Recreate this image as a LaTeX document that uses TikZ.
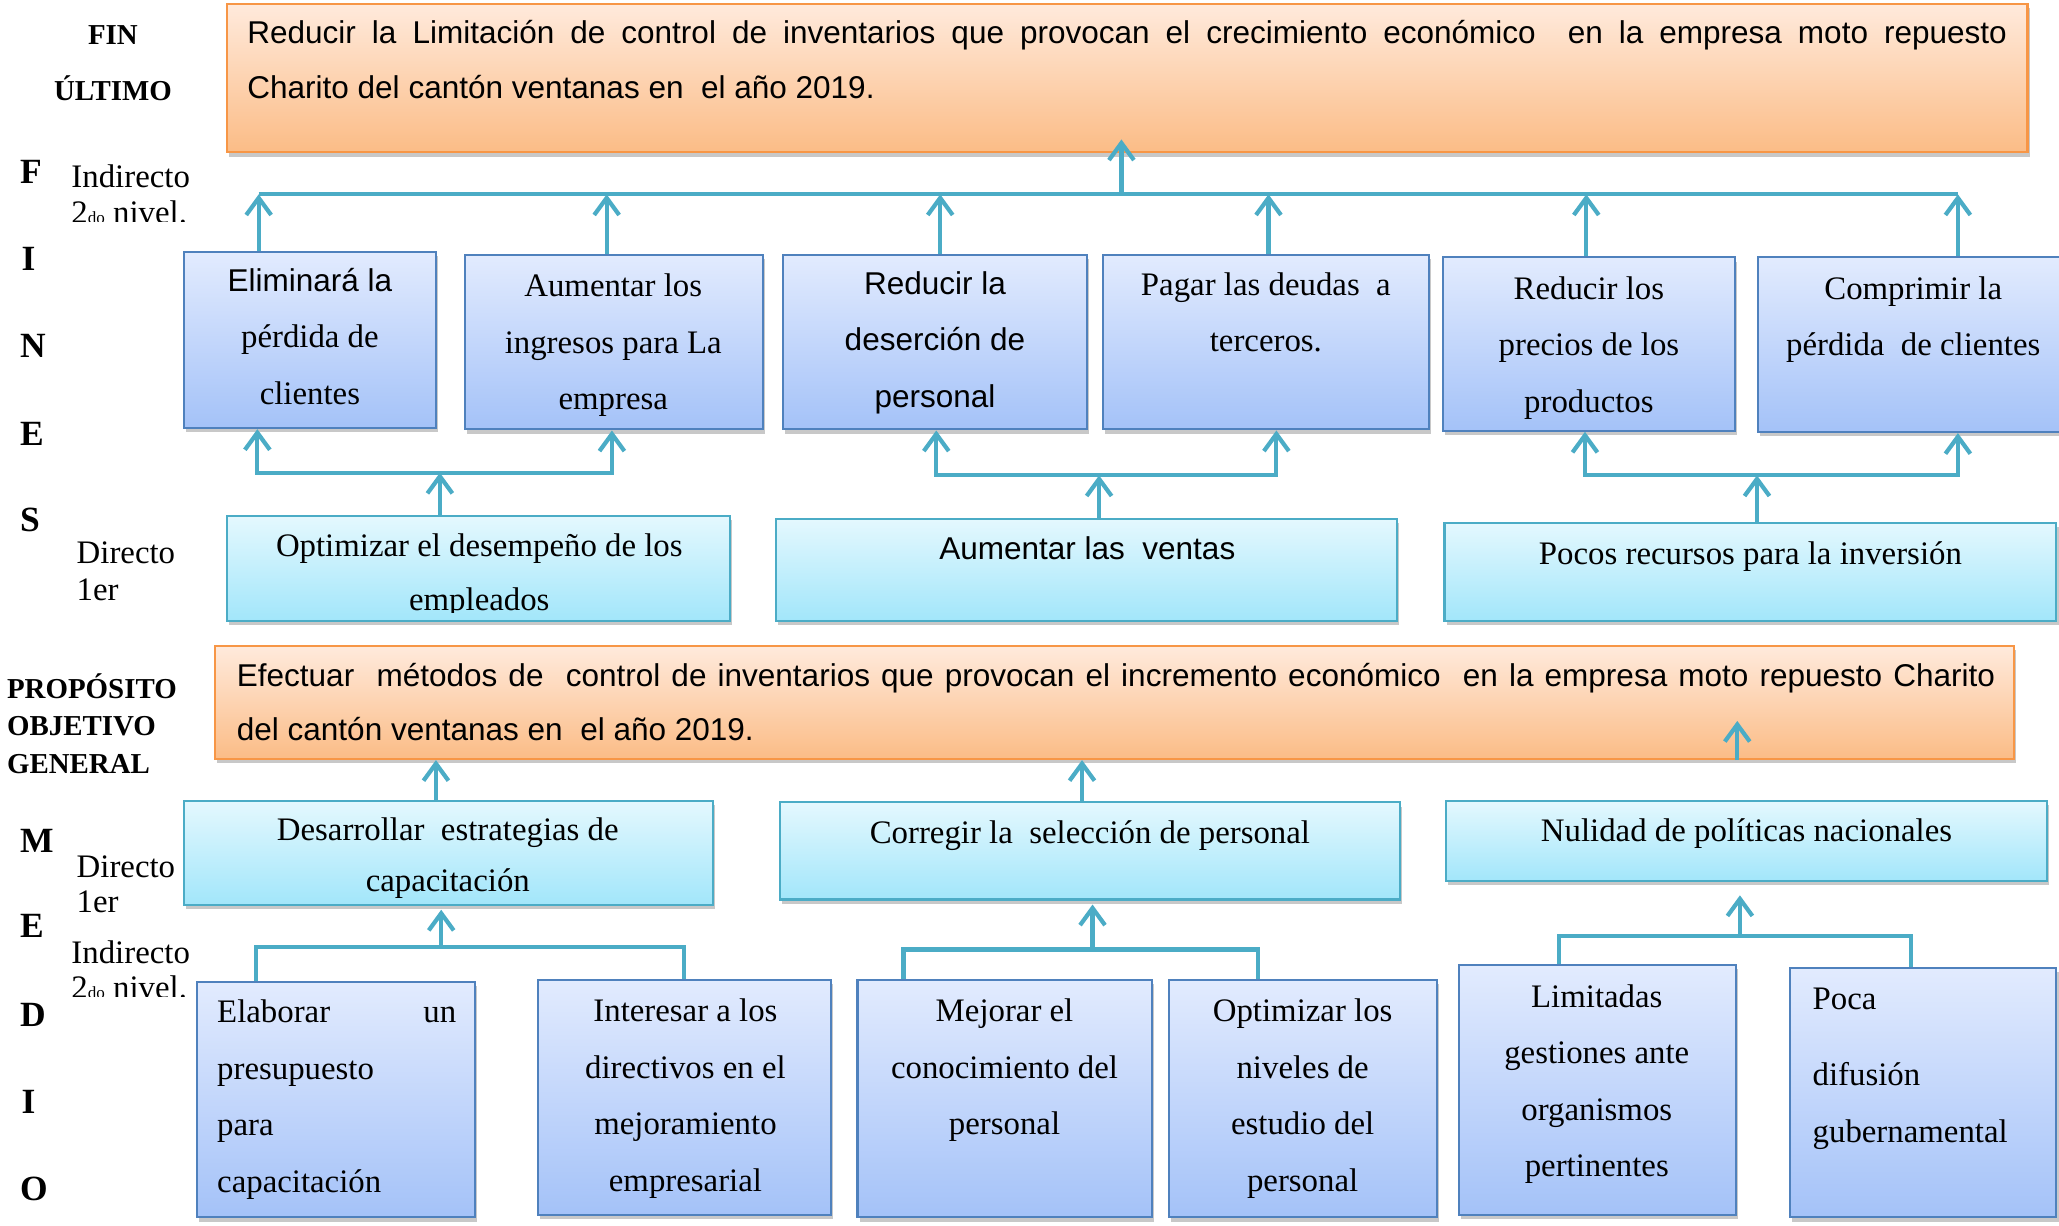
\documentclass[tikz,border=0pt]{standalone}
\usepackage{fontspec}
\setmainfont{Liberation Serif}
\newfontfamily\arialf{Liberation Sans}
\usetikzlibrary{fit,shadows,arrows.meta}
\definecolor{orTop}{HTML}{FFEADC}
\definecolor{orBot}{HTML}{FBBC86}
\definecolor{orLine}{HTML}{F79646}
\definecolor{blTop}{HTML}{E2EBFE}
\definecolor{blBot}{HTML}{A4C2F8}
\definecolor{blLine}{HTML}{4F81BD}
\definecolor{cyTop}{HTML}{E4F8FE}
\definecolor{cyBot}{HTML}{A2E6FA}
\definecolor{cyLine}{HTML}{4BACC6}
\definecolor{connC}{HTML}{4BACC6}
\newcommand{\ariaTxt}{\arialf\fontsize{12}{21.5}\selectfont}
\begin{document}
\begin{tikzpicture}[x=0.5pt,y=0.5pt,
  boxbase/.style={rectangle, inner sep=0pt, line width=0.8pt,
    drop shadow={shadow xshift=0.8pt,shadow yshift=-1.6pt,opacity=0.3,fill=black!70}},
  orbox/.style={boxbase, draw=orLine, top color=orTop, bottom color=orBot},
  blbox/.style={boxbase, draw=blLine, top color=blTop, bottom color=blBot},
  cybox/.style={boxbase, draw=cyLine, top color=cyTop, bottom color=cyBot},
  conn/.style={draw=connC, line width=1.6pt},
  arr/.style={conn, -{Straight Barb[length=6.5pt,width=9.5pt]}},
  darr/.style={conn, {Straight Barb[length=6.5pt,width=9.5pt]}-{Straight Barb[length=6.5pt,width=9.5pt]}},
  stxt/.style={inner sep=0pt, font=\fontsize{12.5}{21.5}\selectfont, align=flush center},
  atxt/.style={inner sep=0pt, font=\ariaTxt, align=flush center},
  lab/.style={inner sep=0pt, font=\bfseries\fontsize{11}{13}\selectfont},
  letr/.style={inner sep=0pt, font=\bfseries\fontsize{13.5}{15}\selectfont, anchor=base west},
  lvl/.style={inner sep=0pt, font=\fontsize{12.5}{14}\selectfont, anchor=base west},
]
\useasboundingbox (0,0) rectangle (1568,-933);
\fill[white] (0,0) rectangle (1568,-933);
\clip (0,0) rectangle (1568,-933);

% ---------- boxes ----------
\node[orbox, fit={(173,-3) (1544,-116)}] (fin) {};
\node[blbox, fit={(140,-192) (332,-326)}] (b1) {};
\node[blbox, fit={(354,-194) (581,-327)}] (b2) {};
\node[blbox, fit={(596,-194) (828,-327)}] (b3) {};
\node[blbox, fit={(840,-194) (1088,-327)}] (b4) {};
\node[blbox, fit={(1099,-196) (1321,-328)}] (b5) {};
\node[blbox, fit={(1339,-196) (1580,-329)}] (b6) {};
\node[cybox, fit={(173,-393) (556,-473)}] (c1) {};
\node[cybox, fit={(591,-395) (1064,-473)}] (c2) {};
\node[cybox, fit={(1100,-398) (1566,-473)}] (c3) {};
\node[orbox, fit={(164,-492) (1534,-578)}] (og) {};
\node[cybox, fit={(140,-610) (543,-689)}] (m1) {};
\node[cybox, fit={(594,-611) (1066,-685)}] (m2) {};
\node[cybox, fit={(1101,-610) (1559,-671)}] (m3) {};
\node[blbox, fit={(150,-748) (362,-927)}] (e1) {};
\node[blbox, fit={(410,-746) (633,-925)}] (e2) {};
\node[blbox, fit={(653,-746) (877,-927)}] (e3) {};
\node[blbox, fit={(890,-746) (1094,-927)}] (e4) {};
\node[blbox, fit={(1111,-735) (1322,-925)}] (e5) {};
\node[blbox, fit={(1363,-737) (1566,-927)}] (e6) {};

% ---------- connectors ----------
\coordinate (tbL) at (197,-148);
\coordinate (tbR) at (1491,-148);
\coordinate (tbM) at (854,-148);
\coordinate (ta2) at (462,-148);
\coordinate (ta3) at (716,-148);
\coordinate (ta4) at (966,-148);
\coordinate (ta5) at (1208,-148);
\draw[conn] (tbL) -- (tbR);
\draw[arr, shorten >=-5.3pt] (tbM) -- (tbM |- fin.south);
\draw[arr] (b1.north -| tbL) -- (tbL);
\draw[arr] (b2.north -| ta2) -- (ta2);
\draw[arr] (b3.north -| ta3) -- (ta3);
\draw[arr] (b4.north -| ta4) -- (ta4);
\draw[arr] (b5.north -| ta5) -- (ta5);
\draw[arr] (b6.north -| tbR) -- (tbR);

\coordinate (g1L) at (196,-360);
\coordinate (g1R) at (466,-360);
\coordinate (g1M) at (335,-360);
\draw[darr] (b1.south -| g1L) -- (g1L) -- (g1R) -- (b2.south -| g1R);
\draw[arr] (c1.north -| g1M) -- (g1M);

\coordinate (g2L) at (713,-362);
\coordinate (g2R) at (972,-362);
\coordinate (g2M) at (837,-362);
\draw[darr] (b3.south -| g2L) -- (g2L) -- (g2R) -- (b4.south -| g2R);
\draw[arr] (c2.north -| g2M) -- (g2M);

\coordinate (g3L) at (1207,-362);
\coordinate (g3R) at (1491,-362);
\coordinate (g3M) at (1338,-362);
\draw[darr] (b5.south -| g3L) -- (g3L) -- (g3R) -- (b6.south -| g3R);
\draw[arr] (c3.north -| g3M) -- (g3M);

\coordinate (p1) at (332,-578);
\coordinate (p2) at (824,-578);
\coordinate (p3) at (1323,-578);
\coordinate (p3t) at (1323,-549);
\draw[arr] (m1.north -| p1) -- (p1 |- og.south);
\draw[arr] (m2.north -| p2) -- (p2 |- og.south);
\draw[arr] (p3 |- og.south) -- (p3t);

\coordinate (k1L) at (195,-721);
\coordinate (k1R) at (521,-721);
\coordinate (k1M) at (336,-721);
\draw[conn] (e1.north -| k1L) -- (k1L) -- (k1R) -- (e2.north -| k1R);
\draw[arr, shorten >=1.5pt] (k1M) -- (k1M |- m1.south);

\coordinate (k2L) at (688,-723);
\coordinate (k2R) at (958,-723);
\coordinate (k2M) at (832,-723);
\draw[conn] (e3.north -| k2L) -- (k2L) -- (k2R) -- (e4.north -| k2R);
\draw[arr, shorten >=1.5pt] (k2M) -- (k2M |- m2.south);

\coordinate (k3L) at (1187,-713);
\coordinate (k3R) at (1455,-713);
\coordinate (k3M) at (1325,-713);
\draw[conn] (e5.north -| k3L) -- (k3L) -- (k3R) -- (e6.north -| k3R);
\draw[arr, shorten >=5pt] (k3M) -- (k3M |- m3.south);

% ---------- box texts ----------
\node[atxt, anchor=base west] (fint1) at (188,-33) {\makebox[670pt][s]{Reducir la Limitación de control de inventarios que provocan el crecimiento económico\ \ en la empresa moto repuesto}};
\node[atxt, anchor=base west] (fint2) at (188,-75) {Charito del cantón ventanas en\ \ el año 2019.};

\node[stxt, text width=110pt, anchor=base] (t1) at (236,-222) {{\ariaTxt Eliminará la}\\pérdida de\\clientes};
\node[stxt, text width=115pt, anchor=base] (t2) at (467,-226) {Aumentar los\\ingresos para La\\empresa};
\node[atxt, text width=110pt, anchor=base] (t3) at (712,-224) {Reducir la\\deserción de\\personal};
\node[stxt, text width=120pt, anchor=base] (t4) at (964,-225) {Pagar las deudas\ \ a\\terceros.};
\node[stxt, text width=110pt, anchor=base] (t5) at (1210,-228) {Reducir los\\precios de los\\productos};
\node[stxt, text width=115pt, anchor=base] (t6) at (1457,-228) {Comprimir la\\pérdida\ \ de clientes};

\begin{scope}
\clip (173,-393) rectangle (556,-466.5);
\node[stxt, text width=190pt, anchor=base] (tc1) at (365,-424) {Optimizar el desempeño de los\\[-1pt]empleados};
\end{scope}
\node[atxt, anchor=base] (tc2) at (828,-426) {Aumentar las\ \ ventas};
\node[stxt, anchor=base] (tc3) at (1333,-430) {Pocos recursos para la inversión};

\node[atxt, anchor=base west] (ogt1) at (180,-522.5) {\makebox[669.5pt][s]{Efectuar\ \ métodos de\ \ control de inventarios que provocan el incremento económico\ \ en la empresa moto repuesto Charito}};
\node[atxt, anchor=base west] (ogt2) at (180,-564) {del cantón ventanas en\ \ el año 2019.};

\node[stxt, font=\fontsize{12.5}{19.5}\selectfont, text width=200pt, anchor=base] (tm1) at (341,-640) {Desarrollar\ \ estrategias de\\capacitación};
\node[stxt, anchor=base] (tm2) at (830,-642) {Corregir la\ \ selección de personal};
\node[stxt, anchor=base] (tm3) at (1330,-641) {Nulidad de políticas nacionales};

\node[stxt, text width=91pt, align=flush left, anchor=base west] (te1) at (165,-779) {\hbox to 91pt{Elaborar\hfill un}\\presupuesto\\para\\capacitación};
\node[stxt, text width=115pt, anchor=base] (te2) at (522,-778) {Interesar a los\\directivos en el\\mejoramiento\\empresarial};
\node[stxt, text width=115pt, anchor=base] (te3) at (765,-778) {Mejorar el\\conocimiento del\\personal};
\node[stxt, text width=110pt, anchor=base] (te4) at (992,-778) {Optimizar los\\niveles de\\estudio del\\personal};
\node[stxt, text width=110pt, anchor=base] (te5) at (1216,-767) {Limitadas\\gestiones ante\\organismos\\pertinentes};
\node[stxt, text width=95pt, align=flush left, anchor=base west] (te6) at (1380,-769) {Poca\\[7.5pt]difusión\\gubernamental};

% ---------- left labels ----------
\node[lab, anchor=base] (lfin) at (86,-34) {FIN};
\node[lab, anchor=base] (lult) at (86,-76.5) {ÚLTIMO};
\node[letr] (lF) at (15,-140) {F};
\node[letr] (lI) at (16,-206) {I};
\node[letr] (lN) at (15,-272) {N};
\node[letr] (lE) at (15,-339) {E};
\node[letr] (lS) at (15,-405) {S};
\node[lvl] (lind1) at (54,-143) {Indirecto};
\begin{scope}
\clip (40,-150) rectangle (170,-169);
\node[lvl] (lniv1) at (54,-170) {2{\fontsize{6.5}{7}\selectfont do} nivel.};
\end{scope}
\node[lvl] (ldir1) at (58,-429) {Directo};
\node[lvl] (ler1) at (58,-457.5) {1er};

\node[lab, anchor=base west] (lpro) at (5,-532) {PROPÓSITO};
\node[lab, anchor=base west] (lobj) at (5,-560) {OBJETIVO};
\node[lab, anchor=base west] (lgen) at (5,-589) {GENERAL};

\node[letr] (lM) at (15,-649) {M};
\node[letr] (lE2) at (15,-714) {E};
\node[letr] (lD) at (15,-782) {D};
\node[letr] (lI2) at (16,-848) {I};
\node[letr] (lO) at (15,-914) {O};
\node[lvl] (ldir2) at (58,-668) {Directo};
\node[lvl] (ler2) at (58,-695) {1er};
\node[lvl] (lind2) at (54,-734) {Indirecto};
\begin{scope}
\clip (40,-740) rectangle (170,-759);
\node[lvl] (lniv2) at (54,-760) {2{\fontsize{6.5}{7}\selectfont do} nivel.};
\end{scope}
\end{tikzpicture}
\end{document}
